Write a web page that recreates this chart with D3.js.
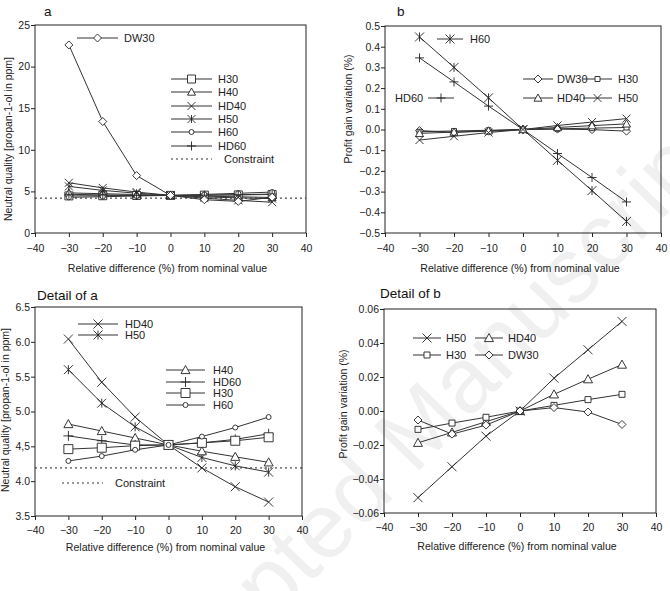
<!DOCTYPE html>
<html>
<head>
<meta charset="utf-8">
<script src="https://cdn.jsdelivr.net/npm/d3@7"></script>
<style>
  body { margin: 0; background: #fff; }
  svg { font-family: "Liberation Sans", Arial, sans-serif; }
</style>
</head>
<body>
<div id="chart"></div>
<script>
// relative difference (%) from nominal value
const xValues = [-30, -20, -10, 0, 10, 20, 30]
const xTicks = [-40, -30, -20, -10, 0, 10, 20, 30, 40]

// neutral quality [propan-1-ol in ppm]
const dw30Quality = [22.6, 13.4, 6.9, 4.52, 4.0, 3.8, 4.3]
const h30Quality  = [4.46, 4.48, 4.51, 4.52, 4.55, 4.58, 4.63]
const h40Quality  = [4.82, 4.72, 4.62, 4.52, 4.43, 4.35, 4.27]
const hd40Quality = [6.04, 5.42, 4.92, 4.52, 4.19, 3.92, 3.70]
const h50Quality  = [5.60, 5.12, 4.78, 4.52, 4.34, 4.22, 4.13]
const h60Quality  = [4.29, 4.36, 4.45, 4.52, 4.64, 4.77, 4.92]
const hd60Quality = [4.65, 4.58, 4.52, 4.52, 4.55, 4.60, 4.68]
const constraintQuality = 4.19

// profit gain variation (%)
const h60Profit  = [0.447, 0.30, 0.153, 0, -0.149, -0.295, -0.444]
const hd60Profit = [0.346, 0.23, 0.113, 0, -0.116, -0.232, -0.35]
const h50Profit  = [-0.051, -0.0328, -0.0148, 0, 0.0193, 0.036, 0.0527]
const hd40Profit = [-0.0187, -0.0126, -0.0063, 0, 0.0098, 0.0187, 0.0273]
const h30Profit  = [-0.0108, -0.0071, -0.0037, 0, 0.0033, 0.0067, 0.0098]
const dw30Profit = [-0.0053, -0.0136, -0.0083, 0, 0.002, -0.0006, -0.0079]

// tick labels
const qualityTicks = [0, 5, 10, 15, 20, 25]
const profitTicks = [-0.5, -0.4, -0.3, -0.2, -0.1, 0, 0.1, 0.2, 0.3, 0.4, 0.5]
const detailQualityTicks = [3.5, 4.0, 4.5, 5.0, 5.5, 6.0, 6.5]
const detailQualityLabels = ['3.5', '4.0', '4,5', '5.0', '5.5', '6.0', '6.5']
const detailProfitTicks = [-0.06, -0.04, -0.02, 0, 0.02, 0.04, 0.06]

const xTitle = 'Relative difference (%) from nominal value'

let width = 670, height = 591
let svg = d3.select('#chart').append('svg')
    .attr('width', width)
    .attr('height', height)

// faint watermark behind the plots
svg.append('text')
    .attr('transform', 'translate(130,770) rotate(-46)')
    .style('font-size', '92px')
    .style('fill', '#f0f0f0')
    .text('Accepted Manuscript')

// marker path for each shape, centred on 0,0
function markerPath(shape, s) {
    let h = s / 2
    switch (shape) {
        case 'square': return `M${-h},${-h}H${h}V${h}H${-h}Z`
        case 'triangle': return `M0,${-h}L${h},${h * 0.8}H${-h}Z`
        case 'diamond': return `M0,${-h}L${h},0L0,${h}L${-h},0Z`
        case 'x': return `M${-h},${-h}L${h},${h}M${-h},${h}L${h},${-h}`
        case 'asterisk': return `M${-h},${-h}L${h},${h}M${-h},${h}L${h},${-h}M0,${-h}V${h}`
        case 'plus': return `M${-h},0H${h}M0,${-h}V${h}`
    }
}

function drawMarker(g, shape, size, x, y) {
    if (shape == 'circle') {
        g.append('circle').attr('cx', x).attr('cy', y).attr('r', size / 2)
            .attr('fill', '#fff').attr('stroke', '#222').attr('stroke-width', 0.9)
        return
    }
    let filled = ['square', 'triangle', 'diamond'].includes(shape)
    g.append('path')
        .attr('transform', `translate(${x},${y})`)
        .attr('d', markerPath(shape, size))
        .attr('fill', filled ? '#fff' : 'none')
        .attr('stroke', '#222')
        .attr('stroke-width', 0.9)
}

function makePanel(p) {
    let g = svg.append('g')
    let x = d3.scaleLinear().domain([-40, 40]).range([p.l, p.r])
    let y = d3.scaleLinear().domain(p.yDomain).range([p.b, p.t])

    let xAxis = g.append('g')
        .attr('transform', `translate(0,${p.b})`)
        .call(d3.axisBottom(x).tickValues(xTicks).tickSize(4).tickSizeOuter(0))
    let yAxis = g.append('g')
        .attr('transform', `translate(${p.l},0)`)
        .call(d3.axisLeft(y).tickValues(p.yTicks).tickFormat(p.yFormat).tickSize(4).tickSizeOuter(0))
    ;[xAxis, yAxis].forEach(a => {
        a.select('.domain').remove()
        a.selectAll('line').attr('stroke', '#222')
        a.selectAll('text').style('font-size', '10.5px').attr('fill', '#222')
            .style('font-family', '"Liberation Sans", Arial, sans-serif')
    })
    xAxis.selectAll('text').attr('y', p.tickGap)
    yAxis.selectAll('text').attr('x', -5)

    g.append('rect')
        .attr('x', p.l).attr('y', p.t)
        .attr('width', p.r - p.l).attr('height', p.b - p.t)
        .attr('fill', 'none').attr('stroke', '#222').attr('stroke-width', 1)

    g.append('text')
        .attr('x', (p.l + p.r) / 2 - 3).attr('y', p.b + p.titleGap)
        .attr('text-anchor', 'middle')
        .style('font-size', '10.6px').attr('fill', '#222')
        .text(xTitle)
    g.append('text')
        .attr('transform', `translate(${p.yTitleX},${p.yTitleY}) rotate(-90)`)
        .attr('text-anchor', 'middle')
        .style('font-size', '10.5px').attr('fill', '#222')
        .text(p.yTitle)
    g.append('text')
        .attr('x', p.labelX).attr('y', p.labelY)
        .style('font-size', '13.5px').attr('fill', '#111')
        .text(p.label)

    if (p.constraint != null) {
        g.append('line')
            .attr('x1', p.l).attr('x2', p.r)
            .attr('y1', y(p.constraint)).attr('y2', y(p.constraint))
            .attr('stroke', '#222').attr('stroke-dasharray', '2,3')
    }

    let line = d3.line().x((d, i) => x(xValues[i])).y(d => y(d))
    p.series.forEach(s => {
        g.append('path')
            .attr('d', line(s.values))
            .attr('fill', 'none')
            .attr('stroke', '#333')
            .attr('stroke-width', 1)
    })
    p.series.forEach(s => {
        s.values.forEach((v, i) => drawMarker(g, s.shape, s.size, x(xValues[i]), y(v)))
    })

    // legend
    p.legend.forEach(e => {
        g.append('line')
            .attr('x1', e.x1).attr('x2', e.x2).attr('y1', e.y).attr('y2', e.y)
            .attr('stroke', '#333')
            .attr('stroke-dasharray', e.dotted ? '2,3' : null)
        if (e.shape) drawMarker(g, e.shape, e.size, (e.x1 + e.x2) / 2, e.y)
        g.append('text')
            .attr('x', e.tx).attr('y', e.y + 4)
            .style('font-size', '11px').attr('fill', '#222')
            .text(e.name)
    })
}

const fmt1 = d3.format('.1f'), fmt2 = d3.format('.2f')

makePanel({
    l: 35, r: 306, t: 25, b: 233, titleGap: 39, tickGap: 12,
    yDomain: [0, 25], yTicks: qualityTicks, yFormat: d3.format('d'),
    yTitle: 'Neutral quality [propan-1-ol in ppm]', yTitleX: 12, yTitleY: 139,
    label: 'a', labelX: 44, labelY: 16,
    constraint: constraintQuality,
    series: [
        {values: h30Quality, shape: 'square', size: 8},
        {values: h40Quality, shape: 'triangle', size: 8},
        {values: hd40Quality, shape: 'x', size: 8},
        {values: h50Quality, shape: 'asterisk', size: 8},
        {values: h60Quality, shape: 'circle', size: 5},
        {values: hd60Quality, shape: 'plus', size: 9},
        {values: dw30Quality, shape: 'diamond', size: 8}
    ],
    legend: [
        {name: 'DW30', shape: 'diamond', size: 8, x1: 77, x2: 118, y: 38, tx: 124},
        {name: 'H30', shape: 'square', size: 8, x1: 171, x2: 212, y: 79, tx: 218},
        {name: 'H40', shape: 'triangle', size: 8, x1: 171, x2: 212, y: 92, tx: 218},
        {name: 'HD40', shape: 'x', size: 8, x1: 171, x2: 212, y: 106, tx: 218},
        {name: 'H50', shape: 'asterisk', size: 8, x1: 171, x2: 212, y: 119, tx: 218},
        {name: 'H60', shape: 'circle', size: 5, x1: 171, x2: 212, y: 132, tx: 218},
        {name: 'HD60', shape: 'plus', size: 9, x1: 171, x2: 212, y: 146, tx: 218},
        {name: 'Constraint', dotted: true, x1: 171, x2: 212, y: 159, tx: 224}
    ]
})

makePanel({
    l: 385, r: 661, t: 26, b: 233, titleGap: 39, tickGap: 12,
    yDomain: [-0.5, 0.5], yTicks: profitTicks, yFormat: fmt1,
    yTitle: 'Profit gain variation (%)', yTitleX: 352, yTitleY: 109,
    label: 'b', labelX: 397, labelY: 16,
    series: [
        {values: h60Profit, shape: 'asterisk', size: 9},
        {values: hd60Profit, shape: 'plus', size: 9},
        {values: dw30Profit, shape: 'diamond', size: 8},
        {values: h30Profit, shape: 'square', size: 5},
        {values: hd40Profit, shape: 'triangle', size: 8},
        {values: h50Profit, shape: 'x', size: 8}
    ],
    legend: [
        {name: 'H60', shape: 'asterisk', size: 9, x1: 437, x2: 463, y: 39, tx: 470},
        {name: 'HD60', shape: 'plus', size: 9, x1: 428, x2: 454, y: 98, tx: 395},
        {name: 'DW30', shape: 'diamond', size: 8, x1: 523, x2: 553, y: 79, tx: 557},
        {name: 'H30', shape: 'square', size: 5, x1: 583, x2: 612, y: 79, tx: 618},
        {name: 'HD40', shape: 'triangle', size: 8, x1: 523, x2: 553, y: 98, tx: 557},
        {name: 'H50', shape: 'x', size: 8, x1: 583, x2: 612, y: 98, tx: 618}
    ]
})

makePanel({
    l: 35, r: 302, t: 307, b: 516, titleGap: 35, tickGap: 11,
    yDomain: [3.5, 6.5], yTicks: detailQualityTicks,
    yFormat: (d, i) => detailQualityLabels[i],
    yTitle: 'Neutral quality [propan-1-ol in ppm]', yTitleX: 9, yTitleY: 410,
    label: 'Detail of a', labelX: 37, labelY: 300,
    constraint: constraintQuality,
    series: [
        {values: hd40Quality, shape: 'x', size: 9},
        {values: h50Quality, shape: 'asterisk', size: 9},
        {values: h40Quality, shape: 'triangle', size: 9},
        {values: hd60Quality, shape: 'plus', size: 10},
        {values: h30Quality, shape: 'square', size: 9},
        {values: h60Quality, shape: 'circle', size: 5}
    ],
    legend: [
        {name: 'HD40', shape: 'x', size: 9, x1: 78, x2: 118, y: 324, tx: 125},
        {name: 'H50', shape: 'asterisk', size: 9, x1: 78, x2: 118, y: 335, tx: 125},
        {name: 'H40', shape: 'triangle', size: 9, x1: 166, x2: 205, y: 370, tx: 213},
        {name: 'HD60', shape: 'plus', size: 10, x1: 166, x2: 205, y: 382, tx: 213},
        {name: 'H30', shape: 'square', size: 9, x1: 166, x2: 205, y: 393, tx: 213},
        {name: 'H60', shape: 'circle', size: 5, x1: 166, x2: 205, y: 405, tx: 213},
        {name: 'Constraint', dotted: true, x1: 62, x2: 103, y: 483, tx: 115}
    ]
})

makePanel({
    l: 384, r: 656, t: 309, b: 513, titleGap: 37, tickGap: 11,
    yDomain: [-0.06, 0.06], yTicks: detailProfitTicks, yFormat: fmt2,
    yTitle: 'Profit gain variation (%)', yTitleX: 347, yTitleY: 404,
    label: 'Detail of b', labelX: 380, labelY: 298,
    series: [
        {values: h50Profit, shape: 'x', size: 9},
        {values: hd40Profit, shape: 'triangle', size: 9},
        {values: h30Profit, shape: 'square', size: 6},
        {values: dw30Profit, shape: 'diamond', size: 8}
    ],
    legend: [
        {name: 'H50', shape: 'x', size: 9, x1: 413, x2: 441, y: 338, tx: 446},
        {name: 'HD40', shape: 'triangle', size: 9, x1: 475, x2: 503, y: 338, tx: 508},
        {name: 'H30', shape: 'square', size: 6, x1: 413, x2: 441, y: 355, tx: 446},
        {name: 'DW30', shape: 'diamond', size: 8, x1: 475, x2: 503, y: 355, tx: 508}
    ]
})
</script>
</body>
</html>
